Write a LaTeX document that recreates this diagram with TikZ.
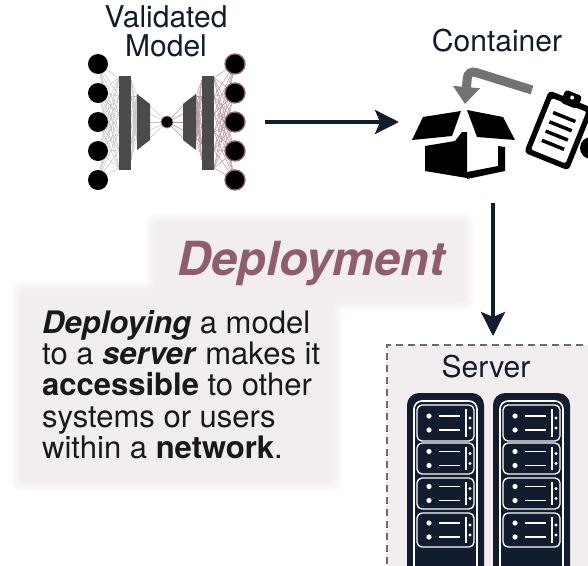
\documentclass[tikz,border=0pt]{standalone}
\usepackage{fontspec}
\setmainfont{TeX Gyre Heros}
\usetikzlibrary{arrows.meta,positioning}

\definecolor{navy}{HTML}{111C2E}
\definecolor{mauve}{HTML}{8E5F6B}
\definecolor{panel}{HTML}{F2EDEF}
\definecolor{dashgray}{HTML}{75656F}
\definecolor{layergray}{HTML}{4B4B4B}
\definecolor{wiregray}{HTML}{C4C4C4}
\definecolor{wiremauve}{HTML}{B8939B}

% light panel with a faded rim
\newcommand\softpanel[4]{%
  \foreach \k in {4,3,2,1}{%
    \fill[panel, opacity=0.3, rounded corners=8pt]
      ({#1-2*\k},{#2-2*\k}) rectangle ({#3+2*\k},{#4+2*\k});}
  \fill[panel, rounded corners=4pt] (#1,#2) rectangle (#3,#4);}

\begin{document}
\begin{tikzpicture}[
        x=1pt, y=-1pt,
        txt/.style={font=\fontsize{30}{28}\selectfont, text=navy, inner sep=0pt, align=center},
        neuron/.style={circle, fill=black, minimum size=20pt, inner sep=0pt},
        hold/.style={draw=none, inner sep=0pt, outer sep=0pt},
        ar/.style={-{Stealth[length=24pt, width=24pt, inset=5pt]}, line width=3.5pt, navy},
        wire/.style={line width=0.5pt, wiregray},
    ]
    \useasboundingbox (0,0) rectangle (588,565);

    % panels behind the texts
    \softpanel{155}{222}{465}{302}
    \softpanel{20}{290}{333}{483}

    \node[font=\fontsize{47}{47}\selectfont\bfseries\itshape, text=mauve, anchor=base, inner sep=0pt]
        (title) at (311,275) {Deployment};
    \node[txt, align=left, anchor=north west, font=\fontsize{31}{31.3}\selectfont, text=black!90]
        (about) at (42,310) {\textbf{\textit{Deploying}} a model\\
        to a \textbf{\textit{server}} makes it\\
        \textbf{accessible} to other\\
        systems or users\\
        within a \textbf{network}.};

    % autoencoder
    \node[txt, anchor=base] (modeltxt) at (166,27) {Validated};
    \node[txt, anchor=base] (modeltxt2) at (166,56) {Model};
    \node[hold, minimum width=198pt, minimum height=130pt] (net) at (166,122) {};

    \foreach \a in {64,93,122,151,180}
        \foreach \b in {78,96,...,168} {
            \draw[wire] (98,\a) -- (119,\b);
            \draw[wire, wiremauve] (235,\a) -- (214,\b);
        }
    \foreach \b in {80,96,...,168}
        \foreach \c in {96,110,...,150} {
            \draw[wire] (131,\b) -- (137,\c);
            \draw[wire, wiremauve] (202,\b) -- (196,\c);
        }
    \foreach \c in {106,114,...,140} {
        \draw[wire] (150,\c) -- (167,122);
        \draw[wire, wiremauve] (183,\c) -- (167,122);
    }
    \fill[layergray] (119,76) rectangle (131,170);
    \fill[layergray] (202,76) rectangle (214,170);
    \fill[layergray] (137,94) -- (150,104) -- (150,140) -- (137,150) -- cycle;
    \fill[layergray] (196,94) -- (183,104) -- (183,140) -- (196,150) -- cycle;

    \foreach \y [count=\i] in {64,93,122,151,180} {
        \node[neuron] (in\i) at (98,\y) {};
        \node[neuron, draw=mauve, line width=1.3pt] (out\i) at (235,\y) {};
    }
    \node[neuron, minimum size=12pt, draw=wiremauve, line width=0.8pt] (mid) at (167,122) {};

    % container
    \node[txt, anchor=base] (conttxt) at (497,51) {Container};
    \node[hold, minimum width=96pt, minimum height=76pt] (crate) at (466,143) {};
    \fill[black] (412,140) -- (423,117) -- (461,111) -- (452,136) -- cycle;
    \fill[black] (467,110) -- (503,117) -- (515,140) -- (477,137) -- cycle;
    \fill[black] (425,146) -- (455,141) -- (462,132) -- (467,132) -- (467,178) -- (425,171) -- cycle;
    \fill[black] (467,172) -- (498,166) -- (498,146) -- (505,147) -- (505,171) -- (467,179) -- cycle;
    \draw[black!55, line width=9pt, rounded corners=8pt, -{Triangle[length=17pt, width=26pt]}]
        (532,90) -- (468,70) -- (465,104);

    \begin{scope}[shift={(559,130)}, rotate=-22]
        \fill[black, rounded corners=4pt] (-24,-33) rectangle (24,34);
        \fill[white, rounded corners=2pt] (-18.5,-27) rectangle (18.5,28.5);
        \fill[black, rounded corners=3pt] (-9,-40) rectangle (9,-26);
        \fill[white] (0,-35) circle (2pt);
        \foreach \ly in {-14,-4,6,16}
            \draw[black, line width=3.5pt] (-12,\ly) -- (12,\ly);
    \end{scope}
    \fill[black] (591,148) circle (11pt);

    % server
    \node[hold, anchor=north west, minimum width=230pt, minimum height=240pt, fill=panel,
          draw=dashgray, line width=2.6pt, dash pattern=on 7pt off 5pt] (srv) at (387,345) {};
    \node[txt, anchor=base] (srvtxt) at (486,377) {Server};

    \foreach \rx in {407,493} {
        \fill[navy, rounded corners=12pt] (\rx,393) rectangle ++(77,185);
        \draw[white, line width=1.6pt, rounded corners=8pt] (\rx+7,401) rectangle (\rx+70,580);
        \foreach \uy/\uh in {405/36,443/31,478/31,513/34} {
            \draw[white, fill=navy, line width=1.3pt, rounded corners=5pt]
                (\rx+10,\uy) rectangle (\rx+67,\uy+\uh);
            \fill[white] (\rx+22,\uy+\uh/2-7) circle (2.6pt) (\rx+22,\uy+\uh/2+7) circle (2.6pt);
            \draw[white, line width=1.3pt] (\rx+32,\uy+\uh/2-7) -- (\rx+53,\uy+\uh/2-7)
                (\rx+32,\uy+\uh/2+7) -- (\rx+53,\uy+\uh/2+7);
            \draw[white, line width=1.2pt] (\rx+59,\uy+4) -- (\rx+59,\uy+\uh-4);
            \fill[white] (\rx+63,\uy+\uh/2-5) circle (1.6pt) (\rx+63,\uy+\uh/2+5) circle (1.6pt);
        }
    }

    % flow
    \coordinate (drop) at (493,203);
    \draw[ar, shorten >=19pt] (net.east) -- (net.east -| crate.west);
    \draw[ar, shorten >=9pt] (drop) -- (drop |- srv.north);
\end{tikzpicture}
\end{document}
